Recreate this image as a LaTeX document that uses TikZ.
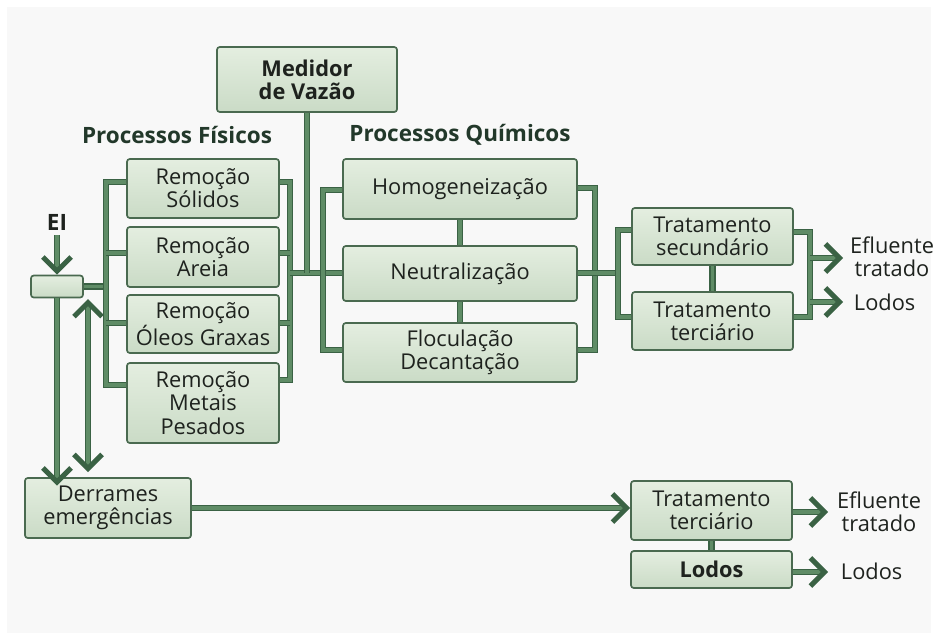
\documentclass[tikz,border=0pt]{standalone}
\usepackage{fontspec}
\setmainfont{Open Sans}
\usetikzlibrary{arrows.meta, positioning}
\definecolor{wtdark}{HTML}{3A6244}
\definecolor{wtpipe}{HTML}{5F8C66}
\definecolor{wtline}{HTML}{4A6A50}
\definecolor{wtboxtop}{HTML}{E4EEE0}
\definecolor{wtboxbot}{HTML}{CADBC6}
\definecolor{wttext}{HTML}{1E221E}
\definecolor{wttitle}{HTML}{22382A}
\definecolor{wtpanel}{HTML}{F8F8F8}

\begin{document}
\begin{tikzpicture}[x=0.025cm, y=-0.025cm,
    font=\fontsize{15.5}{16.5}\selectfont, text=wttext,
    box/.style={draw=wtline, line width=1.2pt, rounded corners=2pt,
        top color=wtboxtop, bottom color=wtboxbot, align=center, inner sep=0pt},
    pipe/.style={draw=wtdark, line width=0.9pt, double=wtpipe, double distance=2.6pt},
    tip/.tip={Straight Barb[length=10pt, width=20pt, line width=3.6pt]},
    flow/.style={pipe, -tip},
    title/.style={font=\fontsize{16}{18}\selectfont\bfseries, text=wttitle}]
    \useasboundingbox (0,0) rectangle (938,633);
    \fill[wtpanel] (7,7) rectangle (931,633);

    % Physical processes
    \node[title] (fis) at (177,135) {Processos Físicos};
    \node[box, minimum width=3.8cm, minimum height=1.475cm] (sol) at (203,188.5) {Remoção\\Sólidos};
    \node[box, minimum width=3.8cm, minimum height=1.5cm] (are) at (203,257) {Remoção\\Areia};
    \node[box, minimum width=3.8cm, minimum height=1.45cm] (ole) at (203,324) {Remoção\\Óleos Graxas};
    \node[box, minimum width=3.8cm, minimum height=2cm] (met) at (203,403) {Remoção\\Metais\\Pesados};

    % Inlet and flow meter
    \node[font=\fontsize{16}{18}\selectfont\bfseries] (ei) at (57,222) {EI};
    \node[box, minimum width=1.3cm, minimum height=0.55cm] (tank) at (57,286.5) {};
    \node[box, font=\fontsize{15.5}{16.5}\selectfont\bfseries, minimum width=4.5cm, minimum height=1.625cm] (med) at (307,79.5) {Medidor\\de Vazão};

    % Chemical processes
    \node[title] (qui) at (460,135) {Processos Químicos};
    \node[box, minimum width=5.85cm, minimum height=1.5cm] (hom) at (460,189) {Homogeneização};
    \node[box, minimum width=5.85cm, minimum height=1.375cm] (neu) at (460,273.5) {Neutralização};
    \node[box, minimum width=5.85cm, minimum height=1.475cm] (flo) at (460,352.5) {Floculação\\Decantação};

    % Treatment
    \node[box, minimum width=4.025cm, minimum height=1.425cm] (sec) at (712.5,236.5) {Tratamento\\secundário};
    \node[box, minimum width=4.025cm, minimum height=1.45cm] (ter) at (712.5,321) {Tratamento\\terciário};
    \node[align=center] (eff) at (892,257) {Efluente\\tratado};
    \node[anchor=west] (lodo) at (849,302) {Lodos};

    % Emergency line
    \node[box, minimum width=4.15cm, minimum height=1.5cm] (der) at (108,508) {Derrames\\emergências};
    \node[box, minimum width=4.025cm, minimum height=1.475cm] (terb) at (711.5,510.5) {Tratamento\\terciário};
    \node[box, font=\fontsize{15.5}{16.5}\selectfont\bfseries, minimum width=4.025cm, minimum height=0.925cm] (lod) at (711.5,569.5) {Lodos};
    \node[align=center] (effb) at (879,512) {Efluente\\tratado};
    \node[anchor=west] (lodob) at (836,571) {Lodos};

    % bus coordinates
    \coordinate (fisL) at (106,286.5);
    \coordinate (fisR) at (290,273);
    \coordinate (medB) at (307,273);
    \coordinate (quiL) at (323,273);
    \coordinate (quiR) at (595,273);
    \coordinate (traL) at (618,273);
    \coordinate (traR1) at (810,258);
    \coordinate (traR2) at (810,302);
    \coordinate (effA) at (843,258);
    \coordinate (lodA) at (843,302);
    \coordinate (effB) at (828,512);
    \coordinate (lodB) at (828,572);

    % pipes, physical
    \draw[pipe] (tank.east) -- (fisL);
    \draw[pipe] (sol.west |- 0,182) -| (fisL) |- (met.west |- 0,385);
    \draw[pipe] (fisL |- 0,253) -- (are.west |- 0,253);
    \draw[pipe] (fisL |- 0,323) -- (ole.west |- 0,323);
    \draw[pipe] (sol.east |- 0,182) -| (fisR) |- (met.east |- 0,380);
    \draw[pipe] (fisR |- 0,253) -- (are.east |- 0,253);
    \draw[pipe] (fisR |- 0,323) -- (ole.east |- 0,323);
    \draw[pipe] (fisR) -- (neu.west |- fisR);
    \draw[pipe] (med.south) -- (medB);

    % pipes, chemical
    \draw[pipe] (hom.west |- 0,190) -| (quiL) |- (flo.west |- 0,350);
    \draw[pipe] (hom.south) -- (neu.north);
    \draw[pipe] (neu.south) -- (flo.north);
    \draw[pipe] (hom.east |- 0,188) -| (quiR) |- (flo.east |- 0,350);
    \draw[pipe] (neu.east |- quiR) -- (traL);

    % pipes, treatment
    \draw[pipe] (sec.west |- 0,230) -| (traL) |- (ter.west |- 0,317);
    \draw[pipe] (sec.south) -- (ter.north);
    \draw[pipe] (sec.east |- 0,232) -| (traR1) -- (traR2) |- (ter.east |- 0,317);
    \draw[flow] (traR1) -- (effA);
    \draw[flow] (traR2) -- (lodA);

    % inlet and emergency branch
    \draw[flow] (ei.south) -- (tank.north);
    \draw[flow] (tank.south) -- ([yshift=-6pt]der.north -| tank.south);
    \draw[flow, tip-tip] (88,299) -- (88,472);
    \draw[flow] (der.east) -- (der.east -| terb.west);
    \draw[flow] (terb.east |- effB) -- (effB);
    \draw[flow] (lod.east |- lodB) -- (lodB);
    \draw[pipe] (terb.south) -- (lod.north);
\end{tikzpicture}
\end{document}
